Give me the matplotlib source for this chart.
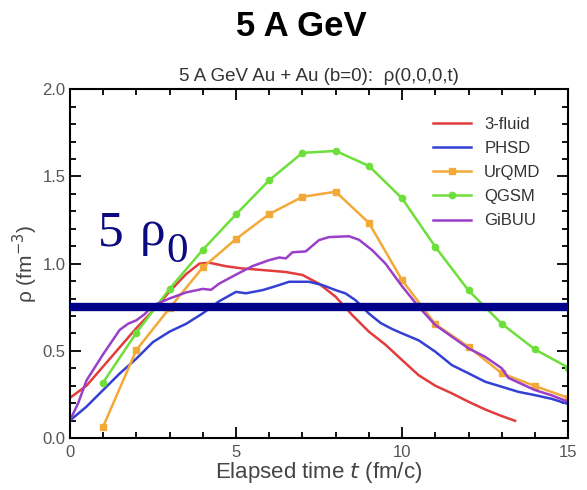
import matplotlib
matplotlib.use("Agg")
import matplotlib.pyplot as plt
from matplotlib.ticker import MultipleLocator

plt.rcParams['font.family'] = ['Liberation Sans', 'DejaVu Sans']

# ---- data ----
t_3fluid = [0, 0.5, 1, 1.5, 2, 2.5, 3, 3.5, 3.9, 4.2, 4.7, 5.2, 5.5, 6.0, 6.5, 7.0,
            7.5, 8.0, 8.5, 9.0, 9.5, 10, 10.5, 11, 11.5, 12, 12.5, 13, 13.4]
rho_3fluid = [0.23, 0.30, 0.41, 0.52, 0.63, 0.73, 0.84, 0.94, 1.00, 1.005, 0.985, 0.972,
              0.968, 0.96, 0.952, 0.935, 0.885, 0.81, 0.705, 0.61, 0.535, 0.447, 0.36,
              0.30, 0.256, 0.208, 0.164, 0.126, 0.099]

t_phsd = [0, 0.5, 1, 1.5, 2, 2.5, 3, 3.5, 4, 4.5, 5, 5.3, 5.8, 6.2, 6.6, 7.2, 7.6, 8.0,
          8.3, 8.6, 9.0, 9.35, 9.7, 10, 10.5, 11, 11.5, 12, 12.5, 13, 13.5, 14, 14.5, 15]
rho_phsd = [0.10, 0.18, 0.275, 0.37, 0.455, 0.55, 0.61, 0.655, 0.715, 0.785, 0.838, 0.83,
            0.848, 0.871, 0.896, 0.896, 0.877, 0.848, 0.829, 0.79, 0.714, 0.66, 0.625,
            0.60, 0.56, 0.495, 0.418, 0.371, 0.323, 0.294, 0.265, 0.246, 0.225, 0.195]

t_urqmd = [1, 2, 3, 4, 5, 6, 7, 8, 9, 10, 11, 12, 13, 14, 15]
rho_urqmd = [0.065, 0.504, 0.745, 0.978, 1.141, 1.284, 1.383, 1.412, 1.234, 0.905,
             0.653, 0.523, 0.371, 0.298, 0.23]

t_qgsm = [1, 2, 3, 4, 5, 6, 7, 8, 9, 10, 11, 12, 13, 14, 15]
rho_qgsm = [0.318, 0.603, 0.855, 1.079, 1.282, 1.478, 1.635, 1.646, 1.56, 1.374,
            1.096, 0.846, 0.655, 0.508, 0.404]

t_gibuu = [0, 0.25, 0.5, 1, 1.5, 1.75, 2, 2.25, 2.5, 3, 3.5, 4, 4.25, 4.5, 5, 5.5, 6,
           6.3, 6.5, 6.7, 7.1, 7.5, 7.8, 8.4, 8.7, 9.1, 9.5, 10, 10.5, 11, 11.5, 12,
           12.5, 13, 13.2, 14, 14.5, 15]
rho_gibuu = [0.10, 0.20, 0.33, 0.48, 0.62, 0.655, 0.675, 0.71, 0.76, 0.80, 0.835, 0.855,
             0.85, 0.886, 0.937, 0.986, 1.02, 1.035, 1.03, 1.065, 1.07, 1.135, 1.152,
             1.157, 1.137, 1.077, 1.0, 0.87, 0.752, 0.648, 0.581, 0.514, 0.466, 0.40,
             0.345, 0.275, 0.245, 0.208]

rho_5rho0 = 0.75

labels = ['3-fluid', 'PHSD', 'UrQMD', 'QGSM', 'GiBUU']
colors = ['#e23c3c', '#3440d4', '#f3a937', '#6ddf3a', '#9a3fc8']

fig = plt.figure(figsize=(5.87, 4.90), dpi=100)
ax = fig.add_axes([0.119, 0.106, 0.849, 0.712])

lw = 1.8
ax.plot(t_3fluid, rho_3fluid, color=colors[0], lw=lw, label=labels[0])
ax.plot(t_phsd, rho_phsd, color=colors[1], lw=lw, label=labels[1])
ax.plot(t_urqmd, rho_urqmd, color=colors[2], lw=lw, marker='s', ms=4.5, label=labels[2])
ax.plot(t_qgsm, rho_qgsm, color=colors[3], lw=lw, marker='o', ms=4.5, label=labels[3])
ax.plot(t_gibuu, rho_gibuu, color=colors[4], lw=lw, label=labels[4])

ax.axhline(rho_5rho0, xmin=0, xmax=0.994, color='#000088', lw=6, zorder=5)

serif = ['Liberation Serif', 'DejaVu Serif']
ax.text(0.85, 1.106, '5', family=serif, fontsize=37, color='#0b0b80',
        ha='left', va='baseline')
ax.text(2.1, 1.106, 'ρ', family=serif, fontsize=37, color='#0b0b80',
        ha='left', va='baseline')
ax.text(2.9, 1.009, '0', family=serif, fontsize=31, color='#0b0b80',
        ha='left', va='baseline')

ax.set_xlim(0, 15)
ax.set_ylim(0, 2.0)
ax.xaxis.set_major_locator(MultipleLocator(5))
ax.xaxis.set_minor_locator(MultipleLocator(1))
ax.yaxis.set_major_locator(MultipleLocator(0.5))
ax.yaxis.set_minor_locator(MultipleLocator(0.1))
ax.yaxis.set_major_formatter(matplotlib.ticker.FormatStrFormatter('%.1f'))
ax.tick_params(which='both', direction='in', top=True, right=True, width=1.3,
               labelsize=12, labelcolor='#555555')
ax.tick_params(axis='x', which='both', pad=5)
ax.tick_params(axis='y', which='both', pad=3)
ax.tick_params(which='major', length=8)
ax.tick_params(which='minor', length=4)
for s in ax.spines.values():
    s.set_linewidth(1.5)

ax.set_xlabel('Elapsed time $t$ (fm/c)', fontsize=16, color='#444444', labelpad=0)
ax.set_ylabel('ρ (fm$^{-3}$)', fontsize=15, color='#444444', labelpad=2)

ax.set_title('5 A GeV Au + Au (b=0):  ρ(0,0,0,t)', fontsize=13.5, color='#333333', pad=6)
fig.text(0.513, 0.945, '5 A GeV', fontsize=25, fontweight='bold', ha='center', va='center')

leg = ax.legend(loc='upper right', bbox_to_anchor=(0.958, 0.94), borderaxespad=0,
                frameon=False, fontsize=12, handlelength=2.3, handletextpad=0.78,
                labelspacing=0.55)
for txt in leg.get_texts():
    txt.set_color('#333333')

fig.savefig('out.png', dpi=100)
